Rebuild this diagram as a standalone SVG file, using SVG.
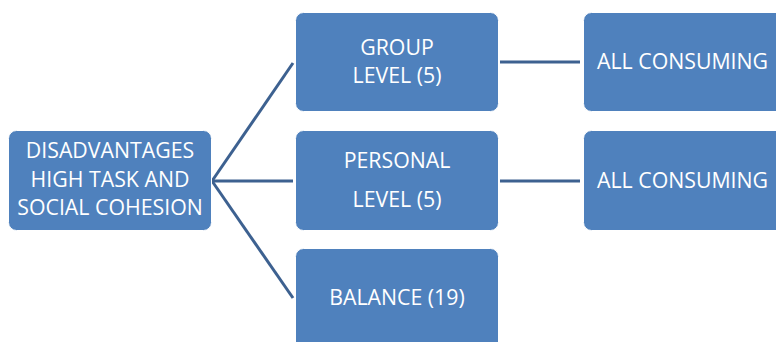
<svg xmlns="http://www.w3.org/2000/svg" width="776" height="342" viewBox="0 0 776 342">
<style>
.box{fill:#4f81bd;stroke:#ffffff;stroke-width:1}
.t{font-family:"Open Sans","Liberation Sans",Arial,sans-serif;font-size:21.3px;fill:#ffffff}
.c{stroke:#3d6190;stroke-width:3;fill:none}
</style>
<rect width="776" height="342" fill="#ffffff"/>
<g id="connectors">
<line class="c" x1="212" y1="181" x2="293" y2="63"/>
<line class="c" x1="212" y1="181" x2="293" y2="181"/>
<line class="c" x1="212" y1="181" x2="293" y2="298"/>
<line class="c" x1="500" y1="62" x2="580" y2="62"/>
<line class="c" x1="500" y1="181" x2="580" y2="181"/>
</g>
<g id="root">
<rect class="box" x="8.5" y="130.5" width="203" height="100" rx="8"/>
<text class="t" x="110" y="158" text-anchor="middle">DISADVANTAGES</text>
<text class="t" x="110" y="187" text-anchor="middle">HIGH TASK AND</text>
<text class="t" x="110" y="215" text-anchor="middle">SOCIAL COHESION</text>
</g>
<g id="group">
<rect class="box" x="295.5" y="12.5" width="203" height="99" rx="8"/>
<text class="t" x="397" y="55" text-anchor="middle">GROUP</text>
<text class="t" x="397" y="83" text-anchor="middle">LEVEL (5)</text>
</g>
<g id="personal">
<rect class="box" x="295.5" y="130.5" width="203" height="100" rx="8"/>
<text class="t" x="397" y="168" text-anchor="middle">PERSONAL</text>
<text class="t" x="397" y="207" text-anchor="middle">LEVEL (5)</text>
</g>
<g id="balance">
<rect class="box" x="295.5" y="248.5" width="203" height="110" rx="8"/>
<text class="t" x="397" y="305" text-anchor="middle">BALANCE (19)</text>
</g>
<g id="consuming1">
<rect class="box" x="583.5" y="12.5" width="210" height="99" rx="8"/>
<text class="t" x="597" y="69">ALL CONSUMING</text>
</g>
<g id="consuming2">
<rect class="box" x="583.5" y="130.5" width="210" height="100" rx="8"/>
<text class="t" x="597" y="188">ALL CONSUMING</text>
</g>
</svg>
